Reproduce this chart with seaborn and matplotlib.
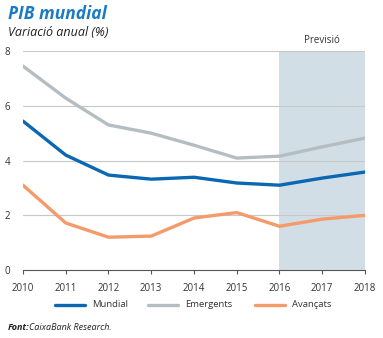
import matplotlib
matplotlib.use("Agg")
import matplotlib.pyplot as plt
import seaborn as sns
import pandas as pd

years = [2010, 2011, 2012, 2013, 2014, 2015, 2016, 2017, 2018]
mundial = [5.44, 4.2, 3.47, 3.32, 3.39, 3.18, 3.1, 3.36, 3.58]
emergents = [7.45, 6.28, 5.3, 5.0, 4.56, 4.09, 4.16, 4.5, 4.82]
avancats = [3.1, 1.72, 1.2, 1.24, 1.9, 2.1, 1.6, 1.86, 2.0]
series_names = ["Mundial", "Emergents", "Avançats"]
colors = ["#0a67b2", "#b4bec2", "#f59a6a"]
forecast_start, forecast_end = 2016, 2018

sns.set_style("white")
plt.rcParams['font.family'] = ['Open Sans', 'DejaVu Sans']

df = pd.DataFrame({
    "year": years * 3,
    "value": mundial + emergents + avancats,
    "serie": [series_names[0]] * 9 + [series_names[1]] * 9 + [series_names[2]] * 9,
})

fig = plt.figure(figsize=(3.83, 3.38), dpi=100)
ax = fig.add_axes([0.060, 0.201, 0.893, 0.648])

ax.axvspan(forecast_start, forecast_end, ymin=0, ymax=1, color="#d2dee6", zorder=0, lw=0)
for yv in [2, 4, 6, 8]:
    ax.axhline(yv, color="#c8c8c8", lw=0.8, zorder=1)

sns.lineplot(data=df, x="year", y="value", hue="serie", palette=colors,
             hue_order=series_names, linewidth=2.4, ax=ax, legend=False, zorder=3)

ax.set_xlim(2010, 2018)
ax.set_ylim(0, 8)
ax.set_xticks(years)
ax.set_xticklabels([str(y) for y in years], fontsize=7, color="#333333")
ax.set_yticks([0, 2, 4, 6, 8])
ax.set_yticklabels(["0", "2", "4", "6", "8"], fontsize=7, color="#333333")
ax.set_xlabel("")
ax.set_ylabel("")
for s in ["top", "right", "left"]:
    ax.spines[s].set_visible(False)
ax.spines["bottom"].set_color("#555555")
ax.spines["bottom"].set_linewidth(0.8)
ax.tick_params(axis="x", length=3, width=0.8, color="#555555", pad=6, direction="out", bottom=True)
ax.tick_params(axis="y", length=0)
for lbl in ax.get_yticklabels():
    lbl.set_horizontalalignment("left")
ax.yaxis.set_tick_params(pad=13)

ax.text(2017, 8.2, "Previsió", ha="center", va="bottom", fontsize=7, color="#333333")

fig.text(0.02, 0.958, "PIB mundial", fontsize=12.5, fontweight="bold", fontstyle="italic",
         color="#1a7bc4", ha="left", va="center")
fig.text(0.02, 0.905, "Variació anual (%)", fontsize=9, fontstyle="italic",
         color="#222222", ha="left", va="center")

# legend
leg_y = 0.098
items = [(0.143, 0.222), (0.386, 0.465), (0.666, 0.745)]
for (x0, x1), name, c in zip(items, series_names, colors):
    fig.add_artist(plt.Line2D([x0, x1], [leg_y, leg_y], color=c, lw=2.4, transform=fig.transFigure))
    fig.text(x1 + 0.018, leg_y, name, fontsize=6.8, color="#333333", ha="left", va="center")

fig.text(0.02, 0.030, "Font:", fontsize=6.5, fontweight="bold", fontstyle="italic",
         color="#222222", ha="left", va="center")
fig.text(0.075, 0.030, "CaixaBank Research.", fontsize=6.5, fontstyle="italic",
         color="#222222", ha="left", va="center")

fig.savefig("out.png", dpi=100)
